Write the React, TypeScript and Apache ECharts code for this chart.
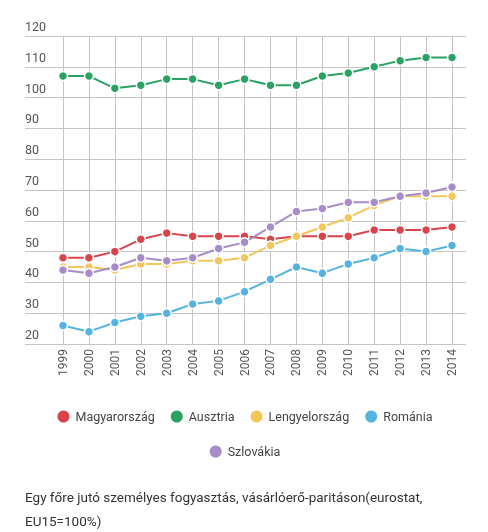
import React, { useEffect, useRef } from "react";
import * as echarts from "echarts";

const years = ["1999","2000","2001","2002","2003","2004","2005","2006","2007","2008","2009","2010","2011","2012","2013","2014"];
const magyarorszag = [48,48,50,54,56,55,55,55,54,55,55,55,57,57,57,58];
const ausztria = [107,107,103,104,106,106,104,106,104,104,107,108,110,112,113,113];
const lengyelorszag = [45,45,44,46,46,47,47,48,52,55,58,61,65,68,68,68];
const romania = [26,24,27,29,30,33,34,37,41,45,43,46,48,51,50,52];
const szlovakia = [44,43,45,48,47,48,51,53,58,63,64,66,66,68,69,71];

const seriesNames = ["Magyarország","Ausztria","Lengyelország","Románia","Szlovákia"];
const seriesData = [magyarorszag, ausztria, lengyelorszag, romania, szlovakia];
const colors = ["#d9444b","#2aa264","#f2c65a","#55b3e3","#a78cc9"];
const caption = "Egy főre jutó személyes fogyasztás, vásárlóerő-paritáson(eurostat,\nEU15=100%)";

const FONT = "Roboto, 'Noto Sans', sans-serif";

const legendBase = {
  left: "center",
  icon: "circle",
  itemWidth: 14,
  itemHeight: 14,
  itemGap: 14,
  textStyle: { fontSize: 12.5, color: "#444", lineHeight: 21, fontFamily: FONT },
};

export default function App() {
  const ref = useRef<HTMLDivElement>(null);
  useEffect(() => {
    if (!ref.current) return;
    const chart = echarts.init(ref.current, null, { renderer: "svg" });
    chart.setOption({
      animation: false,
      textStyle: { fontFamily: FONT },
      grid: [
        { left: 25, right: 22, top: 36, bottom: 188 },
        { left: 63, right: 36, top: 36, bottom: 188 },
      ],
      xAxis: [
        { type: "value", gridIndex: 0, show: false, min: 0, max: 1 },
        {
          type: "category",
          gridIndex: 1,
          data: years,
          boundaryGap: false,
          axisLine: { show: false },
          axisTick: { show: false },
          axisLabel: { rotate: 90, margin: 5, fontSize: 12, color: "#555", fontFamily: FONT },
          splitLine: { show: true, lineStyle: { color: "#c4c4c4", width: 1 } },
        },
      ],
      yAxis: [
        {
          type: "value",
          gridIndex: 0,
          min: 20,
          max: 120,
          interval: 10,
          axisLine: { show: false },
          axisTick: { show: false },
          axisLabel: {
            inside: true,
            margin: 0,
            verticalAlign: "bottom",
            padding: [0, 0, 3, 0],
            fontSize: 12.5,
            color: "#555",
            fontFamily: FONT,
          },
          splitLine: { show: true, lineStyle: { color: "#c4c4c4", width: 1 } },
        },
        { type: "value", gridIndex: 1, min: 20, max: 120, interval: 10, show: false },
      ],
      legend: [
        { ...legendBase, top: 401, data: seriesNames.slice(0, 4) },
        { ...legendBase, top: 436, data: seriesNames.slice(4) },
      ],
      graphic: [
        {
          type: "text",
          left: 25,
          top: 485,
          style: {
            text: caption,
            fontSize: 13.5,
            lineHeight: 24,
            fill: "#333",
            fontFamily: FONT,
          },
        },
      ],
      series: seriesNames.map((name, i) => ({
        name,
        type: "line",
        xAxisIndex: 1,
        yAxisIndex: 1,
        data: seriesData[i],
        symbol: "circle",
        symbolSize: 9,
        showSymbol: true,
        lineStyle: { color: colors[i], width: 2 },
        itemStyle: { color: colors[i], borderColor: "#fff", borderWidth: 1.5 },
      })),
    });
    return () => chart.dispose();
  }, []);
  return (
    <div
      ref={ref}
      style={{ position: "fixed", left: 0, top: 0, width: 488, height: 532 }}
    />
  );
}
